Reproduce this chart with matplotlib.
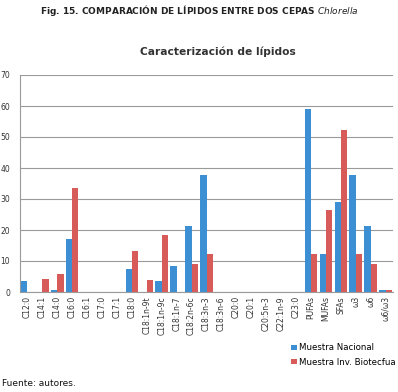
import matplotlib.pyplot as plt
import numpy as np

categorias = ['C12:0', 'C14:1', 'C14:0', 'C16:0', 'C16:1', 'C17:0', 'C17:1',
              'C18:0', 'C18:1n-9t', 'C18:1n-9c', 'C18:1n-7', 'C18:2n-6c',
              'C18:3n-3', 'C18:3n-6', 'C20:0', 'C20:1', 'C20:5n-3', 'C22:1n-9',
              'C23:0', 'PUFAs', 'MUFAs', 'SFAs', 'ω3', 'ω6', 'ω6/ω3']

muestra_nacional = [3.4, 0, 0.7, 17.2, 0, 0, 0, 7.5, 0, 3.4, 8.5, 21.3,
                    37.7, 0, 0, 0, 0, 0, 0, 58.9, 12.2, 29.1, 37.7, 21.3, 0.7]
muestra_biotecfua = [0, 4.1, 5.8, 33.4, 0, 0, 0, 13.2, 3.9, 18.5, 0, 9.1,
                     12.2, 0, 0, 0, 0, 0, 0, 12.2, 26.6, 52.2, 12.2, 9.1, 0.7]

azul = '#3c8fd2'
rojo = '#d75b58'

fig = plt.figure(figsize=(3.98, 3.92), dpi=100)
ax = fig.add_axes([20 / 398, 1 - 292 / 392, 373 / 398, 217 / 392])

x = np.arange(len(categorias))
w = 0.42
ax.bar(x - w / 2, muestra_nacional, w, color=azul, label='Muestra Nacional')
ax.bar(x + w / 2, muestra_biotecfua, w, color=rojo, label='Muestra Inv. Biotecfua')

ax.set_xlim(-0.5, len(categorias) - 0.5)
ax.set_ylim(0, 70)
ax.set_yticks(range(0, 71, 10))
ax.yaxis.grid(True, color='#9a9a9a', linewidth=0.8)
ax.set_axisbelow(True)
ax.set_xticks(x)
ax.set_xticklabels(categorias, rotation=90, fontsize=5.5, color='#333333')
ax.tick_params(axis='y', labelsize=5.5, colors='#333333', length=0, pad=7)
ax.tick_params(axis='x', length=0, pad=3)
for s in ['top', 'right']:
    ax.spines[s].set_visible(False)
ax.spines['left'].set_color('#9a9a9a')
ax.spines['bottom'].set_color('#9a9a9a')

ax.legend(loc='upper left', bbox_to_anchor=(288 / 398, 1 - 340 / 392),
          bbox_transform=fig.transFigure, frameon=False, fontsize=6.2,
          handlelength=0.6, handleheight=0.6, handletextpad=0.3,
          labelspacing=0.6, borderaxespad=0)

fig.text(0.5, 1 - 10 / 392, 'Fig. 15. COMPARACIÓN DE LÍPIDOS ENTRE DOS CEPAS $\\it{Chlorella}$',
         ha='center', va='center', fontsize=6.5, fontweight='bold', color='#222222')
fig.text(218 / 398, 1 - 52 / 392, 'Caracterización de lípidos',
         ha='center', va='center', fontsize=7.7, fontweight='bold', color='#333333')
fig.text(2 / 398, 1 - 384 / 392, 'Fuente: autores.', ha='left', va='center',
         fontsize=6.5, color='#111111')

plt.savefig('out.png', dpi=100)
